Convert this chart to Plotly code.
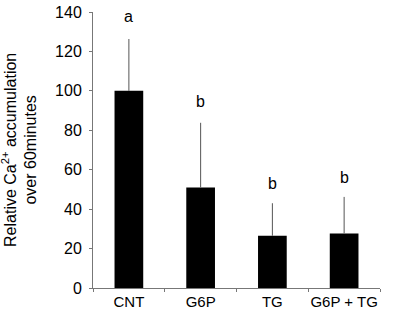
import plotly.graph_objects as go

categories = ["CNT", "G6P", "TG", "G6P + TG"]
values = [100, 51, 26.5, 27.7]
err_upper = [26.3, 32.8, 16.5, 18.5]
letters = ["a", "b", "b", "b"]
letter_y = [137.5, 94.4, 53, 56]

FONT = "Liberation Sans, Arial, sans-serif"

fig = go.Figure()
fig.add_trace(go.Bar(
    x=categories, y=values,
    marker=dict(color="black", line=dict(width=0)),
    error_y=dict(type="data", symmetric=False, array=err_upper, arrayminus=[0]*4,
                 color="#555555", thickness=1, width=0),
    width=0.4,
))
for c, l, ly in zip(categories, letters, letter_y):
    fig.add_annotation(x=c, y=ly, text=l, showarrow=False,
                       font=dict(size=16, color="black", family=FONT))

fig.add_annotation(xref="paper", yref="paper", x=-0.258, y=0.5, xanchor="center", yanchor="middle",
                   textangle=-90, showarrow=False, align="center",
                   text="Relative Ca<sup>2+</sup> accumulation<br>over 60minutes",
                   font=dict(size=16, color="black", family=FONT))

fig.update_layout(
    width=397, height=312,
    margin=dict(l=93, r=17, t=12, b=24),
    plot_bgcolor="white", paper_bgcolor="white",
    showlegend=False,
    font=dict(family=FONT, color="black"),
    xaxis=dict(showline=True, linecolor="#777777", linewidth=1, automargin=False,
               ticks="outside", tickson="boundaries", ticklen=3, tickcolor="#777777",
               tickangle=0, tickfont=dict(size=15), showgrid=False),
    yaxis=dict(range=[0, 140], dtick=20, showline=True, linecolor="#777777", linewidth=1,
               automargin=False, ticklabelstandoff=4,
               ticks="outside", ticklen=3, tickcolor="#777777",
               tickfont=dict(size=16), showgrid=False, zeroline=False),
)
fig.write_html("out.html", config={"displayModeBar": False},
               post_script="document.body.style.margin='0';document.body.style.overflow='hidden';")
